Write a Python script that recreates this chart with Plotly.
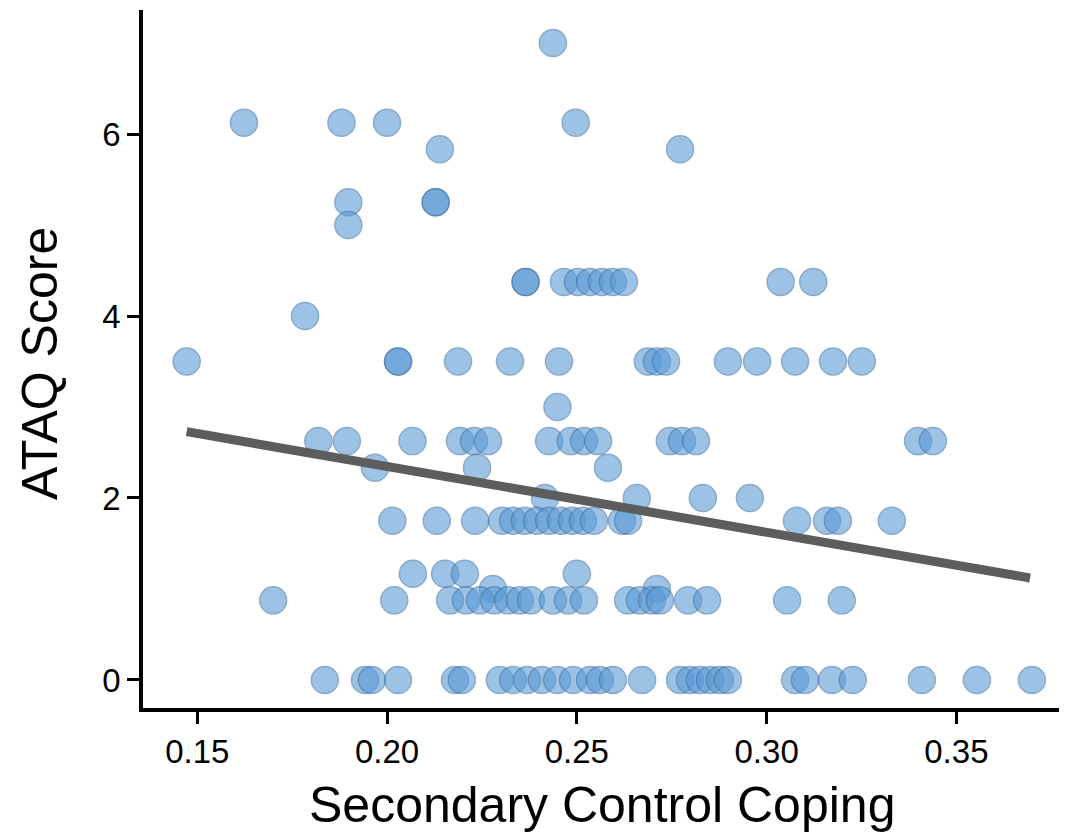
import plotly.graph_objects as go

# ATAQ score levels (rows) and Secondary Control Coping values
y_700 = [0.2437]
y_613 = [0.1623, 0.1880, 0.2000, 0.2497]
y_583 = [0.2139, 0.2772]
y_525 = [0.1898, 0.2128, 0.2128]
y_500 = [0.1898]
y_438 = [0.2365, 0.2365, 0.2466, 0.2503, 0.2535, 0.2566, 0.2595, 0.2624, 0.3037, 0.3123]
y_400 = [0.1784]
y_350 = [0.1472, 0.2029, 0.2029, 0.2187, 0.2324, 0.2453, 0.2687, 0.2711, 0.2735,
         0.2898, 0.2975, 0.3075, 0.3175, 0.3251]
y_300 = [0.2449]
y_263 = [0.1819, 0.1894, 0.2067, 0.2192, 0.2229, 0.2266, 0.2427, 0.2484, 0.2519,
         0.2556, 0.2745, 0.2777, 0.2814, 0.3399, 0.3438]
y_233 = [0.1968, 0.2237, 0.2582]
y_200 = [0.2416, 0.2658, 0.2832, 0.2956]
y_175 = [0.2014, 0.2131, 0.2232, 0.2303, 0.2332, 0.2363, 0.2395, 0.2427, 0.2458,
         0.2487, 0.2516, 0.2545, 0.2619, 0.2635, 0.3080, 0.3159, 0.3188, 0.3330]
y_117 = [0.2068, 0.2153, 0.2205, 0.2500]
y_100 = [0.2279, 0.2711]
y_088 = [0.1700, 0.2019, 0.2166, 0.2208, 0.2245, 0.2282, 0.2319, 0.2350, 0.2379,
         0.2437, 0.2477, 0.2519, 0.2635, 0.2666, 0.2698, 0.2719, 0.2793, 0.2843,
         0.3054, 0.3198]
y_000 = [0.1836, 0.1942, 0.1960, 0.2029, 0.2179, 0.2197, 0.2297, 0.2332, 0.2369,
         0.2408, 0.2448, 0.2490, 0.2535, 0.2561, 0.2595, 0.2672, 0.2772, 0.2798,
         0.2824, 0.2851, 0.2877, 0.2898, 0.3075, 0.3101, 0.3172, 0.3227, 0.3409,
         0.3554, 0.3699]

rows = [
    (7.0, y_700), (6.125, y_613), (5.833, y_583), (5.25, y_525), (5.0, y_500),
    (4.375, y_438), (4.0, y_400), (3.5, y_350), (3.0, y_300), (2.625, y_263),
    (2.333, y_233), (2.0, y_200), (1.75, y_175), (1.167, y_117), (1.0, y_100),
    (0.875, y_088), (0.0, y_000),
]

coping = []
ataq = []
for level, xs in rows:
    for v in xs:
        coping.append(v)
        ataq.append(level)

# fitted line
fit_x = [0.1472, 0.3694]
fit_y = [2.729, 1.121]

x_ticks = [0.15, 0.20, 0.25, 0.30, 0.35]
y_ticks = [0, 2, 4, 6]

x_title = "Secondary Control Coping"
y_title = "ATAQ Score"

FONT = "Liberation Sans, Arial, sans-serif"

fig = go.Figure()
fig.add_trace(go.Scatter(
    x=coping, y=ataq, mode="markers",
    marker=dict(size=27, color="#5B9BD5", opacity=0.6,
                line=dict(color="#3f73a8", width=1.5)),
    showlegend=False, hoverinfo="x+y",
))
fig.add_trace(go.Scatter(
    x=fit_x, y=fit_y, mode="lines",
    line=dict(color="#5d5d5d", width=9),
    showlegend=False,
))

# page body adds an 8px offset; margins compensate for it
fig.update_layout(
    width=1067, height=839,
    margin=dict(l=135, r=15, t=2, b=139, autoexpand=False),
    paper_bgcolor="white", plot_bgcolor="white",
    font=dict(family=FONT, color="black"),
)
fig.update_xaxes(
    range=[0.1357, 0.3773], automargin=False,
    tickvals=x_ticks, ticktext=[f"{v:.2f}" for v in x_ticks],
    showline=True, linecolor="black", linewidth=3.5,
    ticks="outside", ticklen=12, tickwidth=3, tickcolor="black",
    showgrid=False, zeroline=False,
    tickfont=dict(size=33, family=FONT, color="black"),
)
fig.update_yaxes(
    range=[-0.308, 7.363], automargin=False,
    tickvals=y_ticks, ticktext=[str(v) for v in y_ticks],
    showline=True, linecolor="black", linewidth=3.5,
    ticks="outside", ticklen=12, tickwidth=3, tickcolor="black",
    showgrid=False, zeroline=False,
    tickfont=dict(size=33, family=FONT, color="black"),
)

fig.add_annotation(
    text=x_title, xref="paper", yref="paper", x=0.5, y=0,
    xanchor="center", yanchor="middle", yshift=-97, showarrow=False,
    font=dict(size=50, family=FONT, color="black"),
)
fig.add_annotation(
    text=y_title, xref="paper", yref="paper", x=0, y=0.5,
    xanchor="center", yanchor="middle", xshift=-103, yshift=-5,
    textangle=-90, showarrow=False,
    font=dict(size=50, family=FONT, color="black"),
)

fig.write_html("out.html")
